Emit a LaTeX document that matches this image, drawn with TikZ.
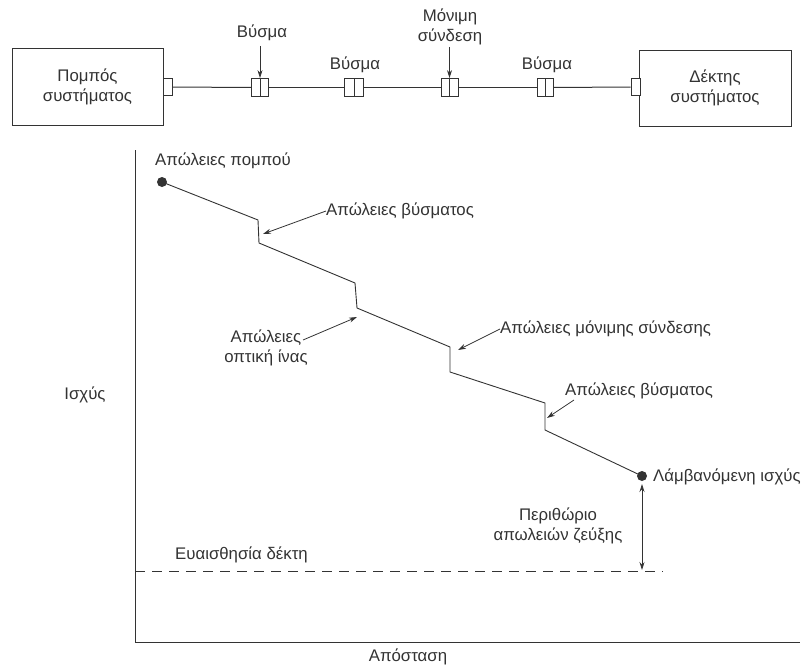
\documentclass[tikz,border=0pt]{standalone}
\usepackage{fontspec}
\setmainfont{Liberation Sans}
\usetikzlibrary{arrows.meta}
\definecolor{ink}{HTML}{333333}
\tikzset{
  every node/.style={text=ink, font=\fontsize{16.8}{20}\selectfont},
  unit/.style={draw=ink, line width=0.9pt, minimum width=151pt, minimum height=77pt, align=center, inner sep=0pt},
  port/.style={draw=ink, fill=white, line width=0.8pt, minimum width=9pt, minimum height=17pt, inner sep=0pt},
  joint/.style={draw=ink, fill=white, line width=0.8pt, minimum width=17pt, minimum height=18pt, inner sep=0pt,
    path picture={\draw[ink, line width=0.8pt] (path picture bounding box.north) -- (path picture bounding box.south);}},
  fibre/.style={draw=ink, line width=1pt},
  curve/.style={draw=ink, line width=0.9pt},
  pointer/.style={draw=ink, line width=0.8pt, -{Stealth[length=8pt,width=5pt]}},
  tag/.style={align=center, inner sep=1pt},
  dot/.style={circle, fill=ink, minimum size=10pt, inner sep=0pt}
}
\begin{document}
\begin{tikzpicture}[x=1pt, y=-1pt]
\useasboundingbox (0,0) rectangle (811,669);

% ---- optical link: transmitter, connectors, splice, receiver ----
\node[unit] (tx) at (87.5,87) {Πομπός\\συστήματος};
\node[unit, minimum width=152pt, minimum height=76pt] (rx) at (715,88) {Δέκτης\\συστήματος};
\node[port] (ptx) at (167.5,87) {};
\node[port] (prx) at (635.5,87) {};
\node[joint] (c1) at (260,87.5) {};
\node[joint, minimum width=19pt] (c2) at (354,87.5) {};
\node[joint] (c3) at (449.5,87.5) {};
\node[joint, minimum width=16pt] (c4) at (545,87.5) {};

\draw[fibre] (ptx.east) -- (c1.west);
\draw[fibre] (c1.east) -- (c2.west);
\draw[fibre] (c2.east) -- (c3.west);
\draw[fibre] (c3.east) -- (c4.west);
\draw[fibre] (c4.east) -- (prx.west);

\node[tag] (b1) at (262,33) {Βύσμα};
\node[tag] (b2) at (355,65) {Βύσμα};
\node[tag] (sp) at (450,27) {Μόνιμη\\σύνδεση};
\node[tag] (b4) at (547,65) {Βύσμα};
\coordinate (a1) at (260,46);
\coordinate (a3) at (449.5,47);
\draw[pointer] (a1) -- (c1.north);
\draw[pointer] (a3) -- (c3.north);

% ---- power budget graph ----
\coordinate (ytop) at (135,150);
\coordinate (orig) at (135,642);
\coordinate (xend) at (800,642);
\draw[ink, line width=0.8pt] (ytop) -- (orig) -- (xend);
\node (ylab) at (85,395) {Ισχύς};
\node (xlab) at (408,657) {Απόσταση};

\node[dot] (start) at (162,182) {};
\node[dot] (recv) at (642,476) {};
\coordinate (s1a) at (258,220);
\coordinate (s1b) at (259,243);
\coordinate (s2a) at (355,283);
\coordinate (s2b) at (357,308);
\coordinate (s3a) at (450,347);
\coordinate (s3b) at (450,372);
\coordinate (s4a) at (545,403);
\coordinate (s4b) at (545,430);
\draw[curve] (start.center) -- (s1a) -- (s1b) -- (s2a) -- (s2b) -- (s3a) -- (s3b)
  -- (s4a) -- (s4b) -- (recv.center);

\node[anchor=west, inner sep=0pt] (ltx) at (155,161) {Απώλειες πομπού};
\node[anchor=west, inner sep=0pt] (lc1) at (326,211) {Απώλειες βύσματος};
\node[tag] (lfib) at (266,348) {Απώλειες\\οπτική ίνας};
\node[anchor=west, inner sep=0pt] (lsp) at (500,329) {Απώλειες μόνιμης σύνδεσης};
\node[anchor=west, inner sep=0pt] (lc2) at (565,391) {Απώλειες βύσματος};
\node[anchor=west, inner sep=0pt] (lrx) at (653,477) {Λάμβανόμενη ισχύς};
\node[tag] (lmar) at (558,526) {Περιθώριο\\απωλειών ζεύξης};
\node[anchor=west, inner sep=0pt] (lsen) at (175,555) {Ευαισθησία δέκτη};

\coordinate (t1) at (263,234);
\coordinate (f0) at (303,340);
\coordinate (f1) at (357,317);
\coordinate (t3) at (458,350);
\coordinate (c2s) at (574,400);
\coordinate (t4) at (547,418);
\draw[pointer] (lc1.west) -- (t1);
\draw[pointer] (f0) -- (f1);
\draw[pointer] (lsp.west) -- (t3);
\draw[pointer] (c2s) -- (t4);

% sensitivity level and margin
\coordinate (sens0) at (135,571);
\coordinate (sens1) at (663,571);
\coordinate (mtop) at (642,484);
\coordinate (mbot) at (642,570);
\draw[ink, line width=0.8pt, dash pattern=on 10pt off 7pt] (sens0) -- (sens1);
\draw[pointer, {Stealth[length=8pt,width=5pt]}-{Stealth[length=8pt,width=5pt]}] (mtop) -- (mbot);
\end{tikzpicture}
\end{document}
